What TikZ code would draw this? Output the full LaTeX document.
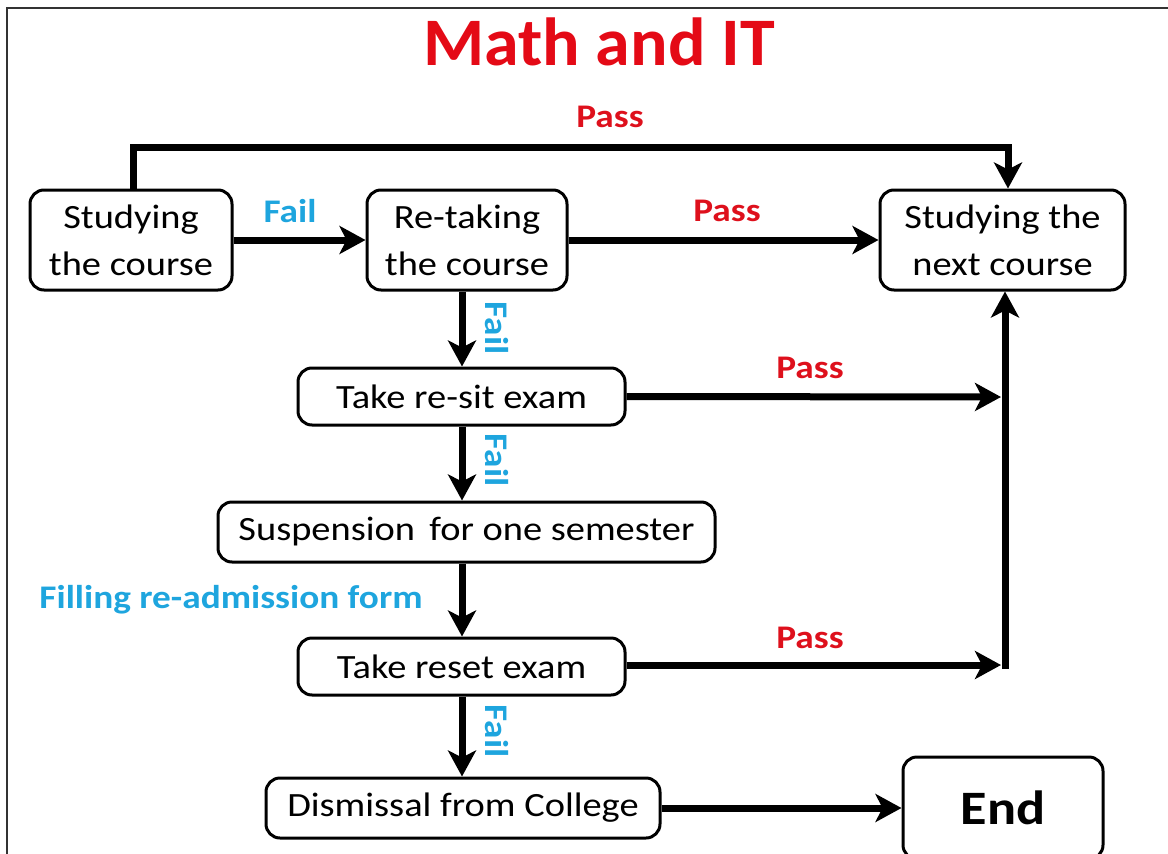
\documentclass[tikz,border=0pt]{standalone}
\usepackage{fontspec}
\setmainfont[FakeStretch=1.13]{Carlito}
\newfontfamily\titlefont[FakeStretch=1.03]{Carlito}
\usetikzlibrary{arrows.meta}
\definecolor{titlered}{RGB}{228,10,22}
\definecolor{passred}{RGB}{222,16,28}
\definecolor{failblue}{RGB}{30,165,222}
\tikzset{
  box/.style={draw=black, line width=3pt, rounded corners=14pt, fill=white,
    inner sep=0pt, align=center, font=\fontsize{34}{47}\selectfont},
  conn/.style={line width=7pt, -{Stealth[length=26pt,width=28pt,inset=7pt]}},
  passlbl/.style={text=passred, font=\fontsize{33}{36}\selectfont\bfseries, inner sep=0pt},
  faillbl/.style={text=failblue, font=\fontsize{33}{36}\selectfont\bfseries, inner sep=0pt},
}
\begin{document}
\begin{tikzpicture}[x=1pt,y=-1pt]
\useasboundingbox (0,0) rectangle (1168,854);
\draw[line width=1.5pt, draw=black!80] (7,854) -- (7,8) -- (1168,8);

\node[text=titlered, font=\titlefont\fontsize{68}{72}\selectfont\bfseries, inner sep=0pt] (title) at (599,42) {Math and IT};

\node[box, minimum width=202pt, minimum height=100pt] (A) at (131,240) {Studying\\the course};
\node[box, minimum width=200pt, minimum height=100pt] (B) at (467,240) {Re-taking\\the course};
\node[box, minimum width=245pt, minimum height=100pt] (C) at (1002.5,240) {Studying the\\next course};
\node[box, minimum width=327pt, minimum height=57pt] (D) at (461.5,396.5) {Take re-sit exam};
\node[box, minimum width=497pt, minimum height=60pt] (E) at (466.5,532) {Suspension\, for one semester};
\node[box, minimum width=327pt, minimum height=57pt] (F) at (461.5,666.5) {Take reset exam};
\node[box, minimum width=394pt, minimum height=60pt] (G) at (463,808) {Dismissal from College};
\node[box, minimum width=200pt, minimum height=102pt, font=\fontsize{48}{52}\selectfont\bfseries] (H) at (1003,808) {End};

% top pass connector
\coordinate (tl) at (133,147);
\coordinate (tr) at (1008,147);
\draw[conn] (A.north -| tl) -- (tl) -- (tr) -- (C.north -| tr);
\node[passlbl] (p1) at (610,117) {Pass};

% A -> B
\draw[conn] (A.east) -- (B.west);
\node[faillbl] (f1) at (290,211) {Fail};

% B -> C
\draw[conn] (B.east) -- (C.west);
\node[passlbl] (p2) at (727,211) {Pass};

% verticals down the middle
\coordinate (mx) at (462,0);
\draw[conn] (B.south -| mx) -- (D.north -| mx);
\node[faillbl, rotate=-90] (f2) at (497,328) {Fail};
\draw[conn] (D.south -| mx) -- (E.north -| mx);
\node[faillbl, rotate=-90] (f3) at (497,460) {Fail};
\draw[conn] (E.south -| mx) -- (F.north -| mx);
\node[faillbl] (fill) at (231,600) {Filling re-admission form};
\draw[conn] (F.south -| mx) -- (G.north -| mx);
\node[faillbl, rotate=-90] (f4) at (497,731) {Fail};

% right side
\coordinate (dR) at (1001,397);
\coordinate (fR) at (1001,665);
\coordinate (vb) at (1005,668.5);
\draw[conn] (D.east) -- (dR);
\node[passlbl] (p3) at (810,368) {Pass};
\draw[conn] (F.east |- fR) -- (fR);
\node[passlbl] (p4) at (810,638) {Pass};
\draw[conn] (vb) -- (vb |- C.south);

% G -> End
\draw[conn] (G.east) -- (H.west);
\end{tikzpicture}
\end{document}
